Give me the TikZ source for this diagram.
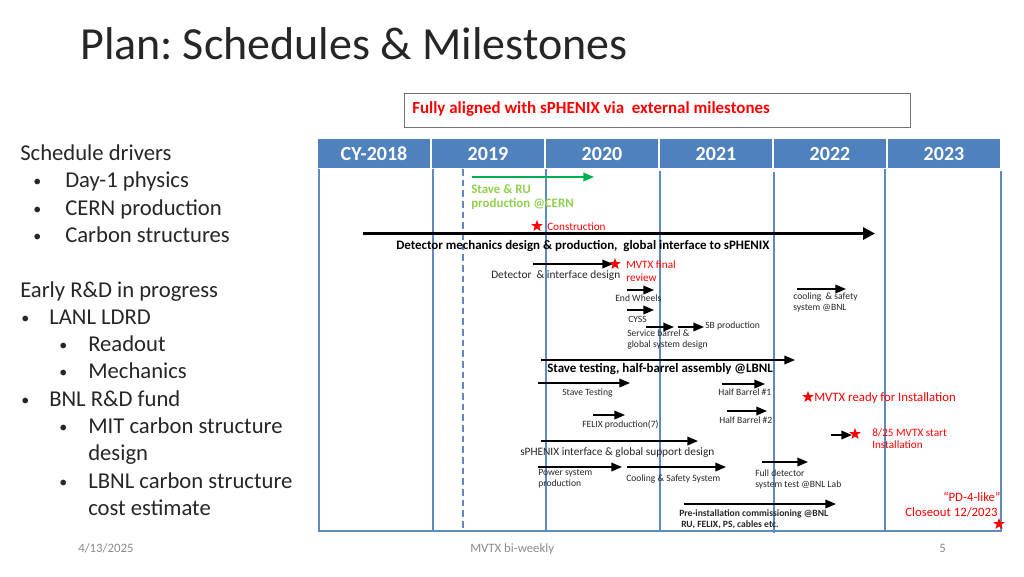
\documentclass[tikz,border=0pt]{standalone}
\usepackage{fontspec}
\setmainfont{Carlito}
\usepackage{xcolor}
\usetikzlibrary{shapes.geometric,arrows.meta}
\definecolor{headblue}{HTML}{4F81BD}
\definecolor{lineblue}{HTML}{5F8AC0}
\definecolor{stavegreen}{HTML}{92D050}
\definecolor{arrowgreen}{HTML}{00B050}
\definecolor{footgray}{HTML}{8B8B8B}
\tikzset{
    txt/.style={inner sep=0pt, anchor=mid west, text=black!85},
    small/.style={txt, font=\fontsize{7.2}{8}\selectfont},
    medium/.style={txt, font=\fontsize{8.5}{10}\selectfont},
    boldlabel/.style={txt, font=\fontsize{9.7}{11}\selectfont\bfseries, text=black},
    redlabel/.style={txt, font=\fontsize{8.4}{10}\selectfont, text=red},
    biglabel/.style={txt, font=\fontsize{9.6}{11}\selectfont, text=red},
    side/.style={txt, font=\fontsize{17}{19}\selectfont},
    sbullet/.style={txt, font=\fontsize{12}{14}\selectfont},
    foot/.style={txt, font=\fontsize{9.6}{11}\selectfont, text=footgray},
    year/.style={fill=headblue, text=white, inner sep=0pt, minimum width=84pt, minimum height=21.75pt,
        text height=10pt, text depth=0pt, font=\fontsize{15}{17}\selectfont\bfseries},
    grid/.style={line width=1.5pt, lineblue},
    bar/.style={line width=1pt, black, -{Triangle[length=8pt,width=6.5pt]}},
    mstar/.style={star, star points=5, star point ratio=2.4, fill=red, inner sep=0pt, minimum size=9pt},
}
\begin{document}
\begin{tikzpicture}[x=0.75pt, y=-0.75pt]
        \useasboundingbox (0,0) rectangle (1024,576);

        % Title
        \node[txt, font=\fontsize{34.5}{40}\selectfont] (title) at (80,56) {Plan:\hspace{-3pt} Schedules \& Milestones};

        % Top box
        \node[draw=black!55, line width=0.75pt, minimum width=380pt, minimum height=25.5pt, inner sep=0pt] (topbox) at (657.5,110) {};
        \node[txt, font=\fontsize{12.7}{14}\selectfont\bfseries, text=red] (toptext) at (412,110) {Fully aligned with sPHENIX via\ \ external milestones};

        % Side text
        \node[side] (s1) at (20,157) {Schedule drivers};
        \node[sbullet] (b2) at (33,183) {•};
        \node[side] (s2) at (65,184) {Day-1 physics};
        \node[sbullet] (b3) at (33,211) {•};
        \node[side] (s3) at (65,212) {CERN production};
        \node[sbullet] (b4) at (33,238) {•};
        \node[side] (s4) at (65,239) {Carbon structures};
        \node[side] (s5) at (20,294) {Early R\&D in progress};
        \node[sbullet] (b6) at (21,320) {•};
        \node[side] (s6) at (49,321) {LANL LDRD};
        \node[sbullet] (b7) at (59,347) {•};
        \node[side] (s7) at (88,348) {Readout};
        \node[sbullet] (b8) at (59,374) {•};
        \node[side] (s8) at (88,375) {Mechanics};
        \node[sbullet] (b9) at (21,402) {•};
        \node[side] (s9) at (49,403) {BNL R\&D fund};
        \node[sbullet] (b10) at (59,429) {•};
        \node[side] (s10) at (88,430) {MIT carbon structure};
        \node[side] (s11) at (88,457) {design};
        \node[sbullet] (b12) at (59,484) {•};
        \node[side] (s12) at (88,485) {LBNL carbon structure};
        \node[side] (s13) at (88,512) {cost estimate};

        % Years
        \node[year] (y18) at (374,153.5) {CY-2018};
        \node[year] (y19) at (488,153.5) {2019};
        \node[year] (y20) at (602,153.5) {2020};
        \node[year] (y21) at (716,153.5) {2021};
        \node[year] (y22) at (830,153.5) {2022};
        \node[year] (y23) at (944,153.5) {2023};

        % Grid
        \draw[grid] (318.5,169) -- (318.5,531);
        \draw[grid] (432.5,169) -- (432.5,531);
        \draw[grid] (546,169) -- (546,531);
        \draw[grid] (660,171) -- (660,531);
        \draw[grid] (773.5,172) -- (773.5,533);
        \draw[grid] (885,169) -- (885,531);
        \draw[grid] (1001,171) -- (1001,531);
        \draw[grid] (318,531) -- (1002,531);
        \draw[grid, dash pattern=on 5pt off 3pt] (463,169) -- (463,531);

        % coordinates
        \coordinate (stave1) at (472,177);
        \coordinate (stave2) at (594,177);
        \coordinate (mech1) at (363,233.5);
        \coordinate (mech2) at (875,233.5);
        \coordinate (iface1) at (533,264);
        \coordinate (iface2) at (613,264);
        \coordinate (wheel1) at (627,290);
        \coordinate (wheel2) at (654,290);
        \coordinate (cyss1) at (627,310);
        \coordinate (cyss2) at (654,310);
        \coordinate (serv1) at (646,327);
        \coordinate (serv2) at (674,327);
        \coordinate (sb1) at (678,327);
        \coordinate (sb2) at (704,327);
        \coordinate (cool1) at (797,289);
        \coordinate (cool2) at (846,289);
        \coordinate (half1) at (541,360);
        \coordinate (half2) at (795,360);
        \coordinate (test1) at (538,383);
        \coordinate (test2) at (630,383);
        \coordinate (hbone1) at (722,384);
        \coordinate (hbone2) at (765,384);
        \coordinate (felix1) at (593,415);
        \coordinate (felix2) at (625,415);
        \coordinate (hbtwo1) at (727,411);
        \coordinate (hbtwo2) at (767,411);
        \coordinate (global1) at (541,441);
        \coordinate (global2) at (698,441);
        \coordinate (start1) at (831,435);
        \coordinate (start2) at (852,435);
        \coordinate (power1) at (538,467);
        \coordinate (power2) at (622,467);
        \coordinate (safety1) at (627,467);
        \coordinate (safety2) at (726,467);
        \coordinate (full1) at (762,462);
        \coordinate (full2) at (808,462);
        \coordinate (pre1) at (684,504);
        \coordinate (pre2) at (836,504);

        % Arrows
        \draw[bar, arrowgreen] (stave1) -- (stave2);
        \draw[line width=2.8pt, black, -{Triangle[length=9pt,width=9pt]}] (mech1) -- (mech2);
        \draw[bar] (iface1) -- (iface2);
        \draw[bar] (wheel1) -- (wheel2);
        \draw[bar] (cyss1) -- (cyss2);
        \draw[bar] (serv1) -- (serv2);
        \draw[bar] (sb1) -- (sb2);
        \draw[bar] (cool1) -- (cool2);
        \draw[bar] (half1) -- (half2);
        \draw[bar] (test1) -- (test2);
        \draw[bar] (hbone1) -- (hbone2);
        \draw[bar] (felix1) -- (felix2);
        \draw[bar] (hbtwo1) -- (hbtwo2);
        \draw[bar] (global1) -- (global2);
        \draw[bar] (start1) -- (start2);
        \draw[bar] (power1) -- (power2);
        \draw[bar] (safety1) -- (safety2);
        \draw[bar] (full1) -- (full2);
        \draw[bar] (pre1) -- (pre2);

        % Stars
        \node[mstar] (m1) at (537,226) {};
        \node[mstar] (m2) at (615,264) {};
        \node[mstar] (m3) at (808,397) {};
        \node[mstar] (m4) at (855,434) {};
        \node[mstar] (m5) at (999,524) {};

        % Text
        \node[boldlabel, text=stavegreen] (t1) at (471,190) {Stave \& RU};
        \node[boldlabel, text=stavegreen] (t2) at (471,204) {production @CERN};
        \node[redlabel] (t3) at (547,227) {Construction};
        \node[boldlabel] (t4) at (396,246.5) {Detector mechanics design \& production,\ \ global interface to sPHENIX};
        \node[medium] (t5) at (491,275) {Detector\ \ \& interface design};
        \node[redlabel] (t6) at (626,265) {MVTX final};
        \node[redlabel] (t7) at (626,278) {review};
        \node[small] (t8) at (615,298) {End Wheels};
        \node[small] (t9) at (628,319) {CYSS};
        \node[small] (t10) at (627,333) {Service barrel \&};
        \node[small] (t11) at (627,344) {global system design};
        \node[small] (t12) at (705,325) {SB production};
        \node[small] (t13) at (793,296) {cooling\ \ \& safety};
        \node[small] (t14) at (793,307) {system @BNL};
        \node[boldlabel] (t15) at (547,369) {Stave testing, half-barrel assembly @LBNL};
        \node[small] (t16) at (562,392) {Stave Testing};
        \node[small] (t17) at (718,392) {Half Barrel \#1};
        \node[biglabel] (t18) at (814,398) {MVTX ready for Installation};
        \node[small] (t19) at (582,424) {FELIX production(7)};
        \node[small] (t20) at (719,420) {Half Barrel \#2};
        \node[redlabel] (t21) at (872,433) {8/25 MVTX start};
        \node[redlabel] (t22) at (872,445) {Installation};
        \node[medium] (t23) at (520,452) {sPHENIX interface \& global support design};
        \node[small] (t24) at (538,472) {Power system};
        \node[small] (t25) at (538,483) {production};
        \node[small] (t26) at (626,478) {Cooling \& Safety System};
        \node[small] (t27) at (755,473) {Full detector};
        \node[small] (t28) at (755,484) {system test @BNL Lab};
        \node[small, font=\fontsize{7.2}{8}\selectfont\bfseries] (t29) at (679,513) {Pre-installation commissioning @BNL};
        \node[small, font=\fontsize{7.2}{8}\selectfont\bfseries] (t30) at (681,524) {RU, FELIX, PS, cables etc.};
        \node[biglabel] (t31) at (943,498) {“PD-4-like”};
        \node[biglabel] (t32) at (905,513) {Closeout 12/2023};

        % Footer
        \node[foot] (f1) at (78,549) {4/13/2025};
        \node[foot] (f2) at (470,549) {MVTX bi-weekly};
        \node[foot] (f3) at (939,549) {5};

    \end{tikzpicture}
\end{document}
